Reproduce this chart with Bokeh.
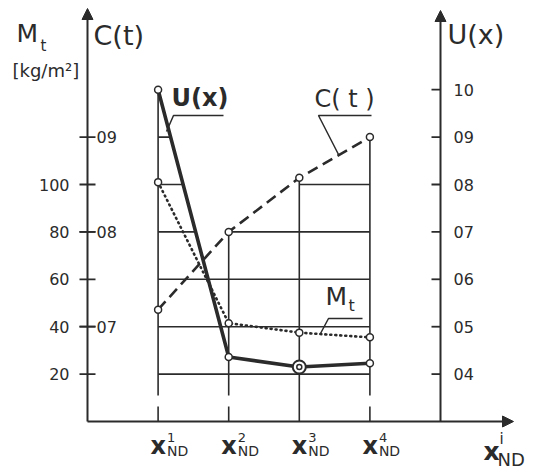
import numpy as np
from bokeh.plotting import figure
from bokeh.models import Range1d, Arrow, NormalHead
from bokeh.core.properties import value
from bokeh.embed import file_html
from bokeh.resources import INLINE

# ---------------- data ----------------
x_pos = [1, 2, 3, 4]
x_sup = ["1", "2", "3", "4"]
U_x = [1.00, 0.436, 0.415, 0.423]          # U(x), right axis
M_t = [101.0, 41.5, 37.5, 35.5]            # M_t [kg/m2], left axis
C_t = [0.718, 0.800, 0.857, 0.900]         # C(t), inner left axis
M_ticks = [20, 40, 60, 80, 100]
M_tick_labels = ["20", "40", "60", "80", "100"]
C_ticks = [0.7, 0.8, 0.9]
C_tick_labels = ["07", "08", "09"]
U_ticks = [0.4, 0.5, 0.6, 0.7, 0.8, 0.9, 1.0]
U_tick_labels = ["04", "05", "06", "07", "08", "09", "10"]
grid_levels_U = [0.4, 0.5, 0.6, 0.7, 0.8, 0.9]

# ---------------- geometry ----------------
W, H = 534, 471
X0, PXX = 87.0, 70.6      # pixel of x=0, px per column step
Y0, PXM = 421.0, 2.37     # pixel of M=0, px per M unit


def px2x(px):
    return (px - X0) / PXX


def px2y(py):
    return (Y0 - py) / PXM


def M2C(m):
    return 0.7 + (m - 40) / 400.0


def M2U(m):
    return 0.3 + m / 200.0


def C2U(c):
    return 2 * c - 0.9


INK = "#2b2b2b"
FONT = value("DejaVu Sans")

p = figure(width=W, height=H,
           x_range=Range1d(px2x(0), px2x(W)),
           y_range=Range1d(px2y(H), px2y(0)),
           output_backend="svg", toolbar_location=None, min_border=0,
           x_axis_location=None, y_axis_location=None)
p.extra_y_ranges = {"C": Range1d(M2C(px2y(H)), M2C(px2y(0))),
                    "U": Range1d(M2U(px2y(H)), M2U(px2y(0)))}
p.grid.visible = False
p.outline_line_color = None
p.background_fill_color = "white"
p.border_fill_color = "white"


def txt(x, y, s, size, align="left", bold=False, yr="default"):
    p.text(x=x, y=y, text=s, text_font=FONT, text_font_size=f"{size}px",
           text_align=align, text_baseline="middle",
           text_font_style="bold" if bold else "normal",
           text_color=INK, y_range_name=yr)


# ---------------- axes (with arrows) ----------------
x_right = len(x_pos) + 1


def head():
    return NormalHead(size=11, line_color=INK, fill_color=INK, line_width=1)


p.add_layout(Arrow(end=head(), x_start=0, y_start=0, x_end=0, y_end=px2y(8),
                   line_color=INK, line_width=2))
p.add_layout(Arrow(end=head(), x_start=x_right, y_start=0, x_end=x_right, y_end=px2y(10),
                   line_color=INK, line_width=2))
p.add_layout(Arrow(end=head(), x_start=0, y_start=0, x_end=px2x(513), y_end=0,
                   line_color=INK, line_width=2))

tl = 8 / PXX
p.segment(x0=[-tl] * len(M_ticks), y0=M_ticks, x1=[tl] * len(M_ticks), y1=M_ticks,
          line_color=INK, line_width=1.8)
p.segment(x0=[-tl] * len(C_ticks), y0=C_ticks, x1=[tl] * len(C_ticks), y1=C_ticks,
          line_color=INK, line_width=1.8, y_range_name="C")
txt([px2x(69)] * len(M_ticks), M_ticks, M_tick_labels, 16, align="right")
txt([px2x(96)] * len(C_ticks), C_ticks, C_tick_labels, 16, yr="C")

p.segment(x0=[x_right - 9 / PXX] * len(U_ticks), y0=U_ticks,
          x1=[x_right] * len(U_ticks), y1=U_ticks,
          line_color=INK, line_width=1.8, y_range_name="U")
txt([x_right + 13 / PXX] * len(U_ticks), U_ticks, U_tick_labels, 16, yr="U")

# ---------------- column verticals ----------------
tops = [max(u, C2U(c), M2U(m)) for u, c, m in zip(U_x, C_t, M_t)]
i_opt = int(np.argmin(U_x))
u_base = M2U(0)
gap_hi = M2U(px2y(395))
gap_lo = M2U(px2y(406))
vx0, vy0, vx1, vy1 = [], [], [], []
for i, xp in enumerate(x_pos):
    if i == i_opt:
        vx0.append(xp); vy0.append(u_base); vx1.append(xp); vy1.append(tops[i])
    else:
        vx0 += [xp, xp]; vy0 += [gap_hi, u_base]; vx1 += [xp, xp]; vy1 += [tops[i], gap_lo]
p.segment(x0=vx0, y0=vy0, x1=vx1, y1=vy1, line_color=INK, line_width=1.6, y_range_name="U")

# ---------------- horizontal grid (under the curves) ----------------
hx0, hx1, hy = [], [], []
for L in grid_levels_U:
    if all(t > L + 1e-6 for t in tops):
        hx0.append(x_pos[0]); hx1.append(x_pos[-1]); hy.append(L)
    else:
        xc = float(np.interp(L, [U_x[1], U_x[0]], [x_pos[1], x_pos[0]]))
        hx0.append(x_pos[0]); hx1.append(xc); hy.append(L)
        for j in range(1, len(x_pos)):
            if tops[j] >= L - 1e-6:
                if j < len(x_pos) - 1:
                    hx0.append(x_pos[j]); hx1.append(x_pos[-1]); hy.append(L)
                break
p.segment(x0=hx0, y0=hy, x1=hx1, y1=hy, line_color=INK, line_width=1.6, y_range_name="U")

# ---------------- series ----------------
p.line(x_pos, C_t, y_range_name="C", line_color=INK, line_width=2.6, line_dash="11 6")
p.line(x_pos, M_t, line_color=INK, line_width=2.6, line_dash="1 4", line_cap="round")
p.line(x_pos, U_x, y_range_name="U", line_color=INK, line_width=3.6, line_join="round")

p.scatter(x_pos, C_t, y_range_name="C", size=7, marker="circle",
          fill_color="white", line_color=INK, line_width=1.5)
p.scatter(x_pos, M_t, size=7, marker="circle",
          fill_color="white", line_color=INK, line_width=1.5)
p.scatter(x_pos, U_x, y_range_name="U", size=7, marker="circle",
          fill_color="white", line_color=INK, line_width=1.5)
p.scatter([x_pos[i_opt]], [U_x[i_opt]], y_range_name="U", size=13, marker="circle",
          fill_color="white", line_color=INK, line_width=2)
p.scatter([x_pos[i_opt]], [U_x[i_opt]], y_range_name="U", size=5, marker="circle",
          fill_color="white", line_color=INK, line_width=1.5)

# ---------------- curve labels with leaders ----------------
txt([px2x(171)], [px2y(97)], ["U(x)"], 24, bold=True)
p.line([px2x(223), px2x(173), px2x(166)], [px2y(115), px2y(115), px2y(131)],
       line_color=INK, line_width=1.5)
txt([px2x(314)], [px2y(98)], ["C( t )"], 24)
p.line([px2x(371), px2x(318), px2x(338)], [px2y(115), px2y(115), px2y(154)],
       line_color=INK, line_width=1.5)
txt([px2x(325)], [px2y(296)], ["M"], 25)
txt([px2x(348)], [px2y(305)], ["t"], 16)
p.line([px2x(362), px2x(328), px2x(320)], [px2y(318), px2y(318), px2y(333)],
       line_color=INK, line_width=1.5)

# ---------------- axis titles ----------------
txt([px2x(16)], [px2y(33)], ["M"], 25)
txt([px2x(40)], [px2y(45)], ["t"], 15)
txt([px2x(12)], [px2y(70)], ["[kg/m²]"], 18)
txt([px2x(93)], [px2y(35)], ["C(t)"], 27)
txt([px2x(447)], [px2y(34)], ["U(x)"], 27)

# ---------------- x labels ----------------
off = 8 / PXX
txt([x + off for x in x_pos], [px2y(445)] * len(x_pos), ["x"] * len(x_pos), 24,
    align="right", bold=True)
txt([x + off + 1 / PXX for x in x_pos], [px2y(437)] * len(x_pos), x_sup, 13)
txt([x + off + 1 / PXX for x in x_pos], [px2y(450)] * len(x_pos), ["ND"] * len(x_pos), 14)
txt([px2x(483)], [px2y(451)], ["x"], 25, bold=True)
txt([px2x(499)], [px2y(438)], ["i"], 15)
txt([px2x(497)], [px2y(459)], ["ND"], 18)

open("out.html", "w").write(file_html(p, INLINE))
